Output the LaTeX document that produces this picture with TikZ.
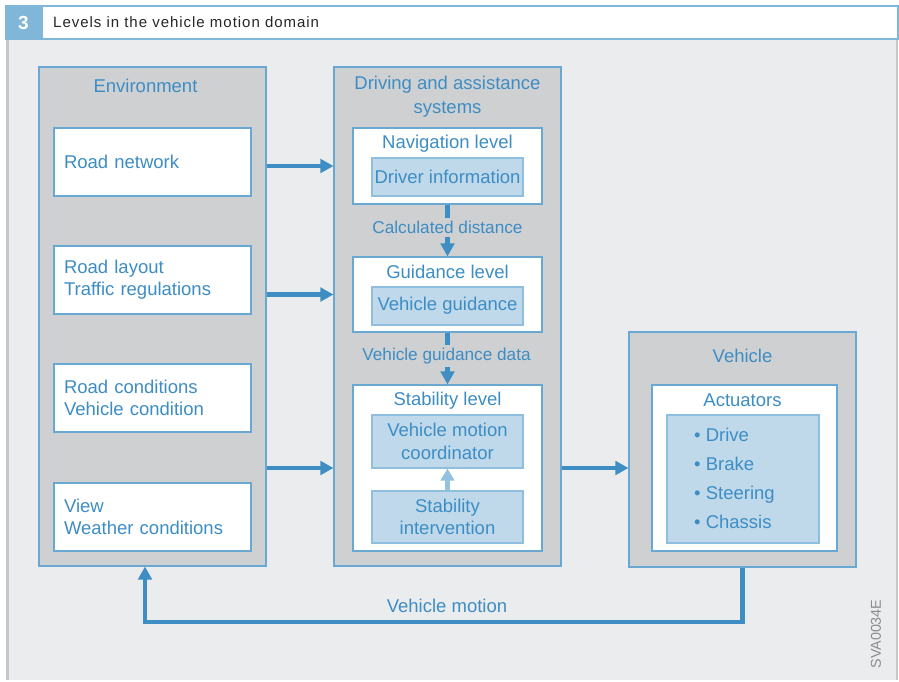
\documentclass[tikz,border=0pt]{standalone}
\usepackage{fontspec}
\setmainfont{Liberation Sans}
\newfontfamily\hdrfont[LetterSpace=6.5]{Liberation Sans}
\usetikzlibrary{arrows.meta}
\definecolor{panelc}{HTML}{EBECED}
\definecolor{paneledge}{HTML}{C6C7C8}
\definecolor{grayc}{HTML}{CFD0D2}
\definecolor{bordc}{HTML}{68A8D3}
\definecolor{bluec}{HTML}{BFD9EA}
\definecolor{bluebord}{HTML}{8EBFDE}
\definecolor{textc}{HTML}{3D8DC5}
\definecolor{arrc}{HTML}{3E8EC4}
\definecolor{lightarr}{HTML}{92C2E0}
\definecolor{hdrblue}{HTML}{80B6D7}
\begin{document}
\begin{tikzpicture}[x=1pt,y=-1pt,
  graybox/.style={draw=bordc,fill=grayc,line width=1.1pt,inner sep=0pt},
  whitebox/.style={draw=bordc,fill=white,line width=1.1pt,inner sep=0pt},
  bluebox/.style={draw=bluebord,fill=bluec,line width=1.1pt,inner sep=0pt,text=textc,align=center,font=\fontsize{18.5}{22.5}\selectfont},
  txt/.style={text=textc,font=\fontsize{18.5}{22}\selectfont,inner sep=0pt},
  envtxt/.style={whitebox,text=textc,font=\fontsize{18.5}{22}\selectfont,align=left,text width=177pt,inner xsep=10pt,minimum height=68pt},
  lbl/.style={text=textc,font=\fontsize{17.2}{20}\selectfont,fill=grayc,inner xsep=1pt,inner ysep=3pt},
  arr/.style={draw=arrc,line width=4.3pt,-{Triangle[width=13.5pt,length=13pt]}},
  larr/.style={draw=lightarr,line width=4.3pt,-{Triangle[width=13.5pt,length=12pt]}}
]
\useasboundingbox (0,0) rectangle (899,681);
% panel
\fill[panelc] (7,40) rectangle (897,680);
\fill[paneledge] (6,40) rectangle (8.5,680);
\fill[paneledge] (895.5,40) rectangle (898,680);
% header
\fill[hdrblue] (5,5) rectangle (899,40);
\fill[white] (43,7) rectangle (896.5,38);
\node[text=white,font=\bfseries\fontsize{19}{20}\selectfont,inner sep=0pt] (num) at (23.5,22.5) {3};
\node[anchor=west,text=black!85,font=\hdrfont\fontsize{15}{16}\selectfont,inner sep=0pt] (title) at (53,22.5) {Levels in the vehicle motion domain};

% Environment
\node[graybox,minimum width=227pt,minimum height=499pt] (env) at (152.5,316.5) {};
\node[txt] (envt) at (145.5,85.5) {Environment};
\node[envtxt] (rn) at (152.5,162) {Road network};
\node[envtxt] (rl) at (152.5,280) {Road layout\\Traffic regulations};
\node[envtxt] (rc) at (152.5,398) {Road conditions\\Vehicle condition};
\node[envtxt] (vw) at (152.5,517) {View\\Weather conditions};

% Driving and assistance systems
\node[graybox,minimum width=227pt,minimum height=499pt] (drv) at (447.5,316.5) {};
\node[txt,align=center,font=\fontsize{18.5}{24}\selectfont] (drvt) at (447.5,97) {Driving and assistance\\systems};
\node[whitebox,minimum width=189pt,minimum height=76pt] (nav) at (447.5,166) {};
\node[txt] (navt) at (447.5,143.5) {Navigation level};
\node[bluebox,minimum width=151pt,minimum height=38pt] (di) at (447.5,177) {Driver information};
\node[whitebox,minimum width=189pt,minimum height=75pt] (gui) at (447.5,294.5) {};
\node[txt] (guit) at (447.5,272) {Guidance level};
\node[bluebox,minimum width=151pt,minimum height=38pt] (vg) at (447.5,306) {Vehicle guidance};
\node[whitebox,minimum width=189pt,minimum height=166pt] (stab) at (447.5,468) {};
\node[txt] (stabt) at (447.5,400.5) {Stability level};
\node[bluebox,minimum width=151pt,minimum height=53pt] (vmc) at (447.5,441.5) {Vehicle motion\\coordinator};
\node[bluebox,minimum width=151pt,minimum height=52pt] (si) at (447.5,517) {Stability\\intervention};

% Vehicle
\node[graybox,minimum width=227pt,minimum height=235pt] (veh) at (742.5,449.5) {};
\node[txt] (veht) at (742.5,355.5) {Vehicle};
\node[whitebox,minimum width=185pt,minimum height=166pt] (act) at (744.5,468) {};
\node[txt] (actt) at (742.5,400.5) {Actuators};
\node[bluebox,minimum width=152pt,minimum height=128pt] (actin) at (743,479) {};
\node[txt,align=left,anchor=west,font=\fontsize{18.5}{29.2}\selectfont] (list) at (694,478.5) {\textbullet\ Drive\\\textbullet\ Brake\\\textbullet\ Steering\\\textbullet\ Chassis};

% arrows between columns
\draw[arr] (env.east |- nav) -- (drv.west |- nav);
\draw[arr] (env.east |- gui) -- (drv.west |- gui);
\draw[arr] (env.east |- stab) -- (drv.west |- stab);
\draw[arr] (drv.east |- stab) -- (veh.west |- stab);

% vertical arrows
\draw[arr] (nav.south) -- (gui.north);
\node[lbl] (cd) at (447.5,227.5) {Calculated distance};
\draw[arr] (gui.south) -- (stab.north);
\node[lbl] (vgd) at (446.5,356) {Vehicle guidance data};
\draw[larr] (si.north) -- (vmc.south);

% feedback
\coordinate (fb) at (145,622);
\draw[arr] (veh.south) |- (fb) -- (fb |- env.south);
\node[text=textc,font=\fontsize{18.5}{20}\selectfont,inner sep=0pt] (vm) at (447,606) {Vehicle motion};

% code
\node[rotate=90,text=black!45,font=\fontsize{14.3}{16}\selectfont,inner sep=0pt] (code) at (876,634) {SVA0034E};
\end{tikzpicture}
\end{document}
